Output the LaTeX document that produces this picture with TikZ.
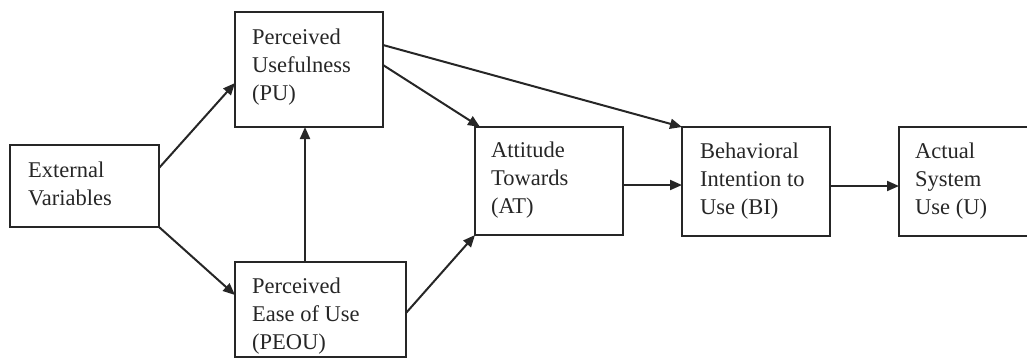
\documentclass[tikz,border=0pt]{standalone}
\usepackage{fontspec}
\setmainfont{Liberation Serif}
\usetikzlibrary{arrows.meta,calc}
\begin{document}
\begin{tikzpicture}[x=1pt,y=-1pt,
  box/.style={draw=black!85,line width=2pt,rectangle,inner sep=0pt,outer sep=0pt},
  txt/.style={anchor=base west,align=left,inner sep=0pt,text=black!85,
    font=\fontsize{22.5}{28}\selectfont},
  arr/.style={draw=black!85,line width=2pt,-{Triangle[length=12pt,width=10pt]}}]
\useasboundingbox (0,0) rectangle (1027,360);
\clip (0,0) rectangle (1027,360);
% boxes
\node[box,minimum width=149pt,minimum height=82pt] (ev) at (84.5,186) {};
\node[box,minimum width=148pt,minimum height=115pt] (pu) at (309,69.5) {};
\node[box,minimum width=171pt,minimum height=95pt] (peou) at (320.5,309.5) {};
\node[box,minimum width=148pt,minimum height=108pt] (at) at (549,181) {};
\node[box,minimum width=148pt,minimum height=109pt] (bi) at (756,181.5) {};
\node[box,minimum width=141pt,minimum height=109pt] (u) at (969.5,181.5) {};
% texts (base anchor = baseline of last line)
\node[txt] (tev) at ($(ev.north west)+(18,60)$) {External\\Variables};
\node[txt] (tpu) at ($(pu.north west)+(17,88)$) {Perceived\\Usefulness\\(PU)};
\node[txt] (tpeou) at ($(peou.north west)+(17,87)$) {Perceived\\Ease of Use\\(PEOU)};
\node[txt] (tat) at ($(at.north west)+(16,86)$) {Attitude\\Towards\\(AT)};
\node[txt] (tbi) at ($(bi.north west)+(18,87)$) {Behavioral\\Intention to\\Use (BI)};
\node[txt] (tu) at ($(u.north west)+(16,87)$) {Actual\\System\\Use (U)};
% connectors
\draw[arr] ($(ev.north east)+(0,23)$) -- ($(pu.north west)+(0,71)$);
\draw[arr] (ev.south east) -- ($(peou.north west)+(0,33)$);
\draw[arr] ($(peou.north west)+(70,0)$) -- ($(pu.south west)+(70,0)$);
\draw[arr] ($(pu.north east)+(0,53)$) -- ($(at.north west)+(5,0)$);
\draw[arr] ($(pu.north east)+(0,33)$) -- (bi.north west);
\draw[arr] ($(peou.north east)+(0,51)$) -- (at.south west);
\draw[arr] ($(at.north east)+(0,58)$) -- ($(bi.north west)+(0,58)$);
\draw[arr] ($(bi.north east)+(0,59)$) -- ($(u.north west)+(0,59)$);
\end{tikzpicture}
\end{document}
